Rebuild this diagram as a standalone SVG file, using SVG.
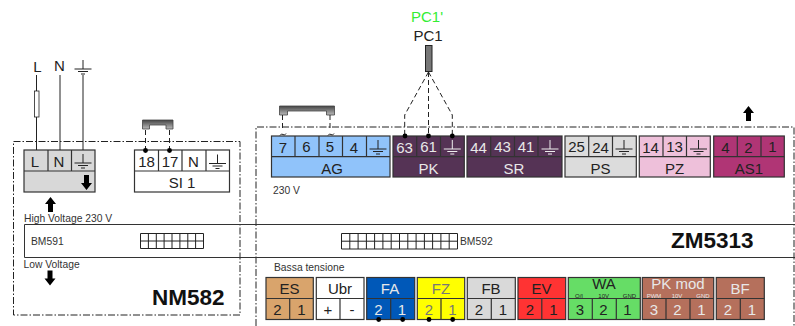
<svg xmlns="http://www.w3.org/2000/svg" xmlns:xlink="http://www.w3.org/1999/xlink" width="795" height="326" viewBox="0 0 795 326">
<style>
text{font-family:"Liberation Sans",Arial,sans-serif;fill:#222}
.t{font-size:15px;text-anchor:middle}
.s{font-size:10.300px;fill:#333}
.m{font-size:6px;text-anchor:middle}
.w{fill:#e8e8e8}
.big{font-size:22.500px;font-weight:bold;fill:#111}
.b{stroke:#333;stroke-width:1.2}
.box{fill:none;stroke:#222;stroke-width:1;stroke-dasharray:7 2 1.5 2}
.l{fill:none;stroke:#222;stroke-width:1}
.d{fill:none;stroke:#222;stroke-width:1;stroke-dasharray:5 3}
.g{stroke:#222;stroke-width:1;fill:none}
.gw{stroke:#eee;stroke-width:1;fill:none}
.j{fill:url(#jg);stroke:#444;stroke-width:.8}
</style>
<defs>
<linearGradient id="jg" x1="0" y1="0" x2="0" y2="1"><stop offset="0" stop-color="#444"/><stop offset="1" stop-color="#bbb"/></linearGradient>
<g id="gnd"><path d="M0-7V2M-8.500 2H8.500M-5 4.500H5M-2 7H2"/></g>
<path id="up" d="M0-8L5.500-1H2.500V7H-2.500V-1H-5.500Z" fill="#000"/>
<path id="down" d="M0 8L5.500 1H2.500V-7H-2.500V1H-5.500Z" fill="#000"/>
<circle id="dot" r="2.400" fill="#000"/>
</defs>

<g id="frames">
<rect class="box" x="13.500" y="141.500" width="226.500" height="173.500"/>
<path class="box" d="M256 326V127H794V326"/>
<path d="M795 224.500H24.500V257.500H795" fill="none" stroke="#333" stroke-width="1"/>
<text class="s" x="24" y="222">High Voltage 230 V</text>
<text class="s" x="23.500" y="268">Low Voltage</text>
<text class="s" x="273" y="194">230 V</text>
<text class="s" x="274" y="270.500">Bassa tensione</text>
<use xlink:href="#up" x="50.500" y="205"/>
<use xlink:href="#down" x="50" y="277.500"/>
<use xlink:href="#up" x="748.500" y="114"/>
</g>

<g id="supply">
<text class="t" x="37.500" y="72">L</text><text class="t" x="59.500" y="71">N</text>
<use xlink:href="#gnd" class="g" x="83" y="67"/>
</g>

<g id="NM582-mains">
<rect class="b" x="24" y="150" width="71" height="42" fill="#d8d8d8"/>
<path class="b" d="M24 171H95M48 150V171M71.500 150V171"/>
<text class="t" x="35" y="167">L</text><text class="t" x="59" y="167">N</text>
<use xlink:href="#gnd" class="g" x="83" y="161"/>
<use xlink:href="#down" x="86.500" y="182"/>
</g>

<g id="SI1">
<rect class="b" x="134.500" y="150" width="95" height="42" fill="#fff"/>
<path class="b" d="M134.500 171H229.500M158.500 150V171M182 150V171M206 150V171"/>
<text class="t" x="146.500" y="167">18</text><text class="t" x="170" y="167">17</text><text class="t" x="193.500" y="167">N</text>
<use xlink:href="#gnd" class="g" x="217.500" y="161.500"/>
<text class="t" x="182" y="188">SI 1</text>
<path class="j" d="M142.500 120H173V129H166V125H149.500V129H142.500Z"/>
</g>

<g id="AG">
<rect class="b" x="271.500" y="136" width="118.500" height="41" fill="#90c3fa"/>
<path class="b" d="M271.500 156.700H390M295 136V156.700M319 136V156.700M342.500 136V156.700M366.500 136V156.700"/>
<text class="t" x="283" y="152.500">7</text><text class="t" x="306.500" y="151.500">6</text><text class="t" x="330" y="151.500">5</text><text class="t" x="354" y="152.500">4</text>
<use xlink:href="#gnd" class="g" x="378" y="147"/>
<text class="t" x="332" y="174">AG</text>
<path class="j" d="M279.500 106H334.500V115H326.500V111H287.500V115H279.500Z"/>
</g>

<g id="PK">
<rect class="b" x="393" y="136" width="71.300" height="41" fill="#553355"/>
<path class="b" d="M393 156.700H464.300M416.700 136V156.700M440.500 136V156.700"/>
<text class="t w" x="404.500" y="152.500">63</text><text class="t w" x="428.500" y="151.500">61</text>
<use xlink:href="#gnd" class="gw" x="452.300" y="147"/>
<text class="t w" x="428.500" y="174">PK</text>
</g>

<g id="PC1">
<text class="t" x="427" y="22" style="fill:#33ee33">PC1'</text>
<text class="t" x="428" y="41">PC1</text>
<rect x="425.500" y="45.500" width="6.500" height="26" fill="#777" stroke="#222" stroke-width="1"/>
</g>

<g id="SR">
<rect class="b" x="467" y="136" width="95" height="41" fill="#553355"/>
<path class="b" d="M467 156.700H562M490.700 136V156.700M514.500 136V156.700M538 136V156.700"/>
<text class="t w" x="478.500" y="152.500">44</text><text class="t w" x="502.500" y="151.500">43</text><text class="t w" x="526" y="151.500">41</text>
<use xlink:href="#gnd" class="gw" x="550" y="147"/>
<text class="t w" x="514" y="174">SR</text>
</g>

<g id="PS">
<rect class="b" x="565" y="136" width="71.300" height="41" fill="#dcdcdc"/>
<path class="b" d="M565 156.700H636.300M588.700 136V156.700M612.500 136V156.700"/>
<text class="t" x="576.500" y="151.500">25</text><text class="t" x="600.500" y="152.500">24</text>
<use xlink:href="#gnd" class="g" x="624" y="147"/>
<text class="t" x="600.500" y="174">PS</text>
</g>

<g id="PZ">
<rect class="b" x="639.300" y="136" width="71" height="41" fill="#eec0da"/>
<path class="b" d="M639.300 156.700H710.300M663 136V156.700M686.500 136V156.700"/>
<text class="t" x="650.500" y="152.500">14</text><text class="t" x="674.500" y="151.500">13</text>
<use xlink:href="#gnd" class="g" x="698.500" y="147"/>
<text class="t" x="674.500" y="174">PZ</text>
</g>

<g id="AS1">
<rect class="b" x="713.700" y="136" width="70.600" height="41" fill="#b03575"/>
<path class="b" d="M713.700 156.700H784.300M737.300 136V156.700M761 136V156.700"/>
<text class="t" x="725.500" y="152.500">4</text><text class="t" x="748.500" y="152.500">2</text><text class="t" x="772.500" y="151.500">1</text>
<text class="t" x="749" y="174">AS1</text>
</g>

<g id="BM591">
<text class="s" x="31" y="245">BM591</text>
<path class="l" d="M140.500 233.500H203.500V248.500H140.500ZM140.500 241H203.500M148.400 233.500V248.500M156.300 233.500V248.500M164.100 233.500V248.500M172 233.500V248.500M179.900 233.500V248.500M187.800 233.500V248.500M195.600 233.500V248.500"/>
</g>

<g id="BM592">
<text class="s" x="460" y="245">BM592</text>
<path class="l" d="M341.500 233.500H457.500V249H341.500ZM341.500 241.200H457.500M349.800 233.500V249M358.100 233.500V249M366.400 233.500V249M374.600 233.500V249M382.900 233.500V249M391.200 233.500V249M399.500 233.500V249M407.800 233.500V249M416.100 233.500V249M424.400 233.500V249M432.600 233.500V249M440.900 233.500V249M449.200 233.500V249"/>
</g>

<text class="big" x="152" y="305">NM582</text>
<text class="big" x="671" y="248">ZM5313</text>

<g id="ES">
<rect class="b" x="266" y="277.500" width="47.300" height="42" fill="#d9a46c"/>
<path class="b" d="M266 298.500H313.300M289.700 298.500V319.500"/>
<text class="t" x="289.500" y="293.500">ES</text><text class="t" x="277.500" y="315">2</text><text class="t" x="301.500" y="315">1</text>
</g>
<g id="Ubr">
<rect class="b" x="316.300" y="277.500" width="47.700" height="42" fill="#fff"/>
<path class="b" d="M316.300 298.500H364M340 298.500V319.500"/>
<text class="t" x="340" y="293.500">Ubr</text><text class="t" x="328" y="315">+</text><text class="t" x="352" y="315">-</text>
</g>
<g id="FA">
<rect class="b" x="366.700" y="277.500" width="48" height="42" fill="#0058b8"/>
<path class="b" d="M366.700 298.500H414.700M390.700 298.500V319.500"/>
<text class="t w" x="390" y="293.500">FA</text><text class="t w" x="378.500" y="315">2</text><text class="t w" x="402" y="315">1</text>
</g>
<g id="FZ">
<rect class="b" x="417.300" y="277.500" width="47.400" height="42" fill="#ffff00"/>
<path class="b" d="M417.300 298.500H464.700M441 298.500V319.500"/>
<text class="t" x="441" y="293.500" style="fill:#777">FZ</text><text class="t" x="429" y="315" style="fill:#777">2</text><text class="t" x="452.500" y="315" style="fill:#777">1</text>
</g>
<g id="FB">
<rect class="b" x="467.300" y="277.500" width="48" height="42" fill="#d9d9d9"/>
<path class="b" d="M467.300 298.500H515.300M491.300 298.500V319.500"/>
<text class="t" x="491" y="293.500">FB</text><text class="t" x="479" y="315">2</text><text class="t" x="503" y="315">1</text>
</g>
<g id="EV">
<rect class="b" x="518" y="277.500" width="47.700" height="42" fill="#ff3333"/>
<path class="b" d="M518 298.500H565.700M541.800 298.500V319.500"/>
<text class="t" x="541.500" y="293.500">EV</text><text class="t" x="530" y="315">2</text><text class="t" x="553.500" y="315">1</text>
</g>
<g id="WA">
<rect class="b" x="568.300" y="277.500" width="72" height="42" fill="#66dd66"/>
<path class="b" d="M568.300 298.500H640.300M592.300 298.500V319.500M616.300 298.500V319.500"/>
<text class="t" x="604" y="289">WA</text>
<text class="m" x="579" y="297.500">O/I</text><text class="m" x="603.700" y="297.500">10V</text><text class="m" x="629.500" y="297.500">GND</text>
<text class="t" x="580" y="315">3</text><text class="t" x="603.500" y="315">2</text><text class="t" x="627.500" y="315">1</text>
</g>
<g id="PKmod">
<rect class="b" x="642.300" y="277.500" width="71.400" height="42" fill="#b5705c"/>
<path class="b" d="M642.300 298.500H713.700M666 298.500V319.500M690 298.500V319.500"/>
<text class="t w" x="678" y="289">PK mod</text>
<text class="m w" x="654" y="297.500">PWM</text><text class="m w" x="677" y="297.500">10V</text><text class="m w" x="703" y="297.500">GND</text>
<text class="t w" x="654" y="315">3</text><text class="t w" x="677.500" y="315">2</text><text class="t w" x="701.500" y="315">1</text>
</g>
<g id="BF">
<rect class="b" x="716.300" y="277.500" width="48" height="42" fill="#b5705c"/>
<path class="b" d="M716.300 298.500H764.300M740.300 298.500V319.500"/>
<text class="t w" x="740" y="293.500">BF</text><text class="t w" x="728" y="315">2</text><text class="t w" x="752" y="315">1</text>
</g>

<g id="connectors">
<path class="l" d="M36.500 75V150M60 75V150M83 75V150"/>
<rect x="34.500" y="91" width="4.500" height="26" fill="#fff" stroke="#222" stroke-width=".8"/>
<path class="d" d="M145.500 130V150M169.500 130V150M282.500 115V131M330 115V131"/>
<path class="l" d="M280 135.500q1.500-2.500 3-1t3-1M328 135.500q1.500-2.500 3-1t3-1"/>
<path class="d" d="M428.500 72L404.700 115V136M428.500 72V136M428.500 72L452.300 115V136"/>
<use xlink:href="#dot" x="145.500" y="150.500"/><use xlink:href="#dot" x="169.500" y="150.500"/>
<use xlink:href="#dot" x="405" y="136"/><use xlink:href="#dot" x="428.500" y="136"/><use xlink:href="#dot" x="452.300" y="136"/>
<use xlink:href="#dot" x="378.700" y="319.500"/><use xlink:href="#dot" x="402.700" y="319.500"/><use xlink:href="#dot" x="429" y="319.500"/><use xlink:href="#dot" x="452.700" y="319.500"/>
</g>
</svg>
